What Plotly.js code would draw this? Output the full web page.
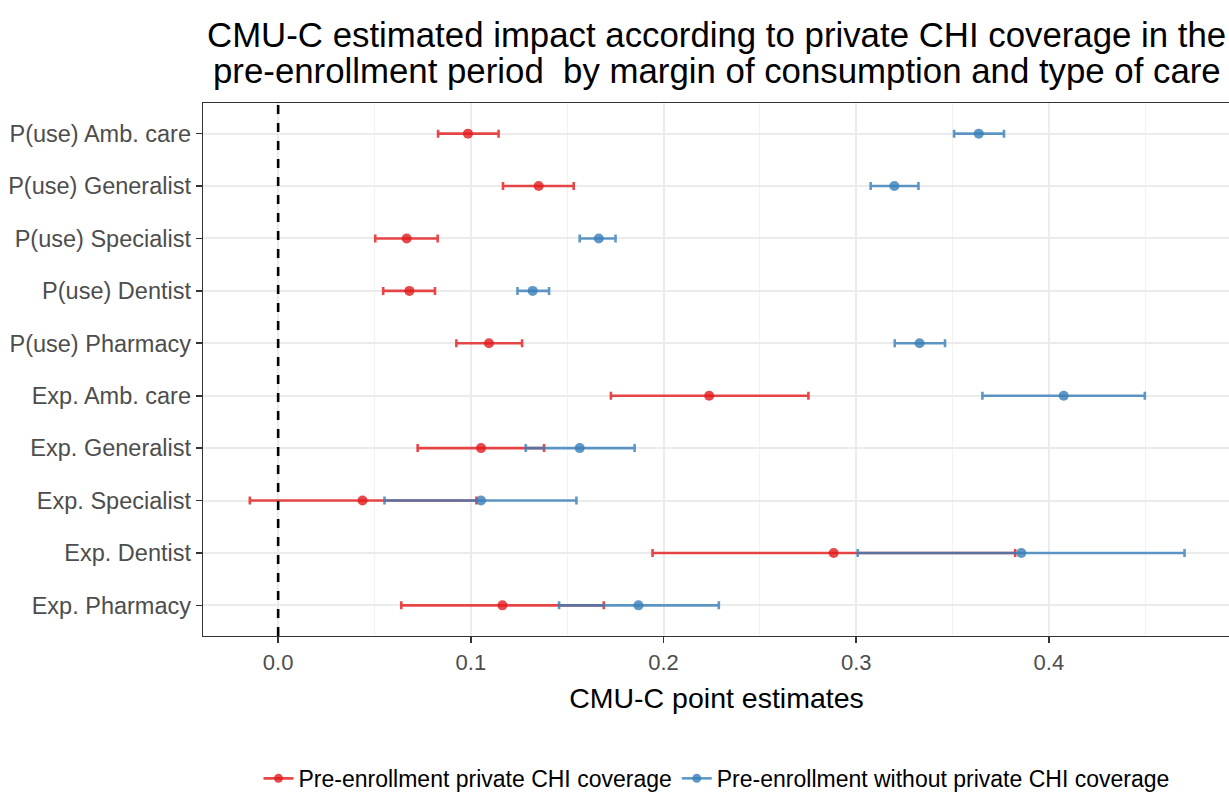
<!DOCTYPE html>
<html>
<head>
<meta charset="utf-8">
<script src="https://cdn.plot.ly/plotly-3.0.1.min.js"></script>
<style>
html,body{margin:0;padding:0;overflow:hidden;background:#fff;}
#chart{width:1240px;height:810px;}
</style>
</head>
<body>
<div id="chart"></div>
<script>
const categories = ["P(use) Amb. care","P(use) Generalist","P(use) Specialist","P(use) Dentist","P(use) Pharmacy",
  "Exp. Amb. care","Exp. Generalist","Exp. Specialist","Exp. Dentist","Exp. Pharmacy"];

const privEst = [0.0985, 0.1352, 0.0667, 0.0681, 0.1094, 0.2237, 0.1053, 0.0438, 0.2883, 0.1164];
const privLo  = [0.0830, 0.1167, 0.0504, 0.0545, 0.0925, 0.1727, 0.0724, -0.0147, 0.1943, 0.0639];
const privHi  = [0.1144, 0.1534, 0.0828, 0.0814, 0.1266, 0.2752, 0.1380, 0.1029, 0.3825, 0.1690];

const noPrivEst = [0.3636, 0.3198, 0.1664, 0.1321, 0.3329, 0.4077, 0.1565, 0.1053, 0.3857, 0.1870];
const noPrivLo  = [0.3508, 0.3075, 0.1565, 0.1242, 0.3200, 0.3655, 0.1285, 0.0552, 0.3008, 0.1458];
const noPrivHi  = [0.3767, 0.3323, 0.1751, 0.1406, 0.3461, 0.4498, 0.1850, 0.1548, 0.4704, 0.2287];

const seriesNames = ["Pre-enrollment private CHI coverage", "Pre-enrollment without private CHI coverage"];
const titleLines = ["CMU-C estimated impact according to private CHI coverage in the",
                    "pre-enrollment period  by margin of consumption and type of care"];
const xTicks = [0.0, 0.1, 0.2, 0.3, 0.4];
const xTickLabels = ["0.0", "0.1", "0.2", "0.3", "0.4"];
const refLine = 0;

const red = "rgba(228,26,28,0.8)";
const blue = "rgba(55,126,184,0.8)";

const FONT = "Liberation Sans, Arial, sans-serif";
const plotTop = 103, plotBottom = 642, plotH = plotBottom - plotTop;
const py = (px) => 1 + (plotTop - px) / plotH;

function errTrace(est, lo, hi, color, name) {
  return {
    type: "scatter", mode: "markers", x: est, y: categories, name: name, showlegend: false,
    marker: {color: color, size: 10},
    error_x: {type: "data", symmetric: false,
      array: est.map((v,i)=>hi[i]-v), arrayminus: est.map((v,i)=>v-lo[i]),
      color: color, thickness: 2.6, width: 4},
    hoverinfo: "x+y"
  };
}
function legTrace(color, name) {
  return {type: "scatter", mode: "lines+markers", x: [null], y: [null], name: name,
    line: {color: color, width: 2.6}, marker: {color: color, size: 9}, showlegend: true};
}

const data = [
  errTrace(privEst, privLo, privHi, red, seriesNames[0]),
  errTrace(noPrivEst, noPrivLo, noPrivHi, blue, seriesNames[1]),
  legTrace(red, seriesNames[0]),
  legTrace(blue, seriesNames[1])
];

const layout = {
  width: 1240, height: 810,
  margin: {l: 203, r: 10, t: plotTop, b: 810 - plotBottom},
  paper_bgcolor: "#fff", plot_bgcolor: "#fff",
  font: {family: FONT, color: "#000"},
  annotations: [
    {text: titleLines[0], xref: "paper", yref: "paper", x: 0.5, y: py(33.5), xanchor: "center", yanchor: "middle",
     showarrow: false, font: {size: 34.8, color: "#000", family: FONT}},
    {text: titleLines[1], xref: "paper", yref: "paper", x: 0.5, y: py(70), xanchor: "center", yanchor: "middle",
     showarrow: false, font: {size: 34.8, color: "#000", family: FONT}}
  ],
  xaxis: {
    automargin: false,
    range: [-0.039, 0.494], tickvals: xTicks, ticktext: xTickLabels,
    ticks: "outside", ticklen: 6, tickwidth: 1.6, tickcolor: "#333",
    tickfont: {size: 22, color: "#4D4D4D"},
    showgrid: true, gridcolor: "#EBEBEB", gridwidth: 2,
    minor: {dtick: 0.05, tick0: 0, showgrid: true, gridcolor: "#F2F2F2", gridwidth: 1, ticks: ""},
    zeroline: false, showline: true, linecolor: "#333", linewidth: 1.3, mirror: true,
    title: {text: "CMU-C point estimates", font: {size: 28.5, color: "#000"}, standoff: 14}
  },
  yaxis: {
    automargin: false,
    type: "category", categoryorder: "array", categoryarray: categories,
    autorange: false, range: [categories.length - 1 + 0.585, -0.585],
    ticks: "outside", ticklen: 6, tickwidth: 1.6, tickcolor: "#333",
    tickfont: {size: 23.5, color: "#4D4D4D"},
    showgrid: true, gridcolor: "#EBEBEB", gridwidth: 2,
    zeroline: false, showline: true, linecolor: "#333", linewidth: 1.3, mirror: true
  },
  shapes: [{type: "line", xref: "x", yref: "paper", x0: refLine, x1: refLine, y0: 0, y1: 1,
    line: {color: "#000", width: 2.6, dash: "dash"}}],
  legend: {orientation: "h", x: 0.5, xanchor: "center", y: py(786), yanchor: "middle",
    font: {size: 23, color: "#000"}, itemwidth: 30, tracegroupgap: 0, bgcolor: "rgba(0,0,0,0)"},
  showlegend: true
};

Plotly.newPlot("chart", data, layout, {displayModeBar: false, staticPlot: true});
</script>
</body>
</html>
